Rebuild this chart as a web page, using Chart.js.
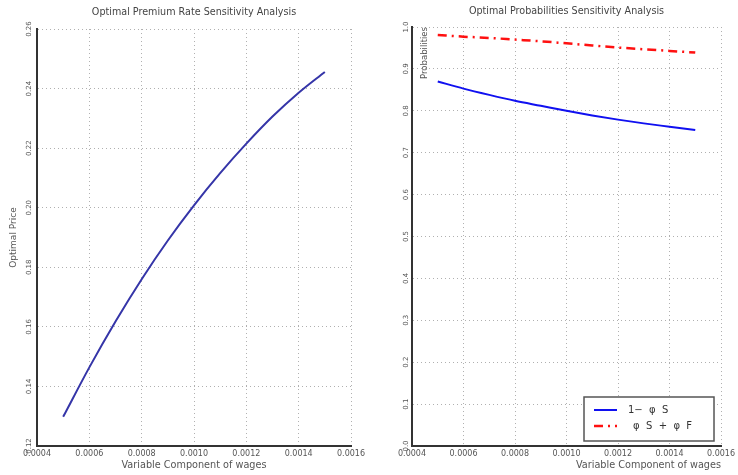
<!DOCTYPE html>
<html>
<head>
<meta charset="utf-8">
<script src="https://cdn.jsdelivr.net/npm/chart.js@4"></script>
<style>
  html, body { margin: 0; padding: 0; background: #fff; }
  body { width: 738px; height: 475px; position: relative; overflow: hidden; }
  canvas { position: absolute; top: 0; }
  #left { left: 0; }
  #right { left: 369px; }
</style>
</head>
<body>
<canvas id="left" width="369" height="475"></canvas>
<canvas id="right" width="369" height="475"></canvas>
<script>
// Daten
const wages = [0.0005, 0.0006, 0.0007, 0.0008, 0.0009, 0.0010, 0.0011, 0.0012, 0.0013, 0.0014, 0.0015];
const optimalPrice = [0.1298, 0.1464, 0.1618, 0.1760, 0.1890, 0.2008, 0.2116, 0.2215, 0.2306, 0.2386, 0.2456];
const oneMinusPhiS = [0.870, 0.853, 0.838, 0.824, 0.812, 0.800, 0.789, 0.779, 0.770, 0.762, 0.754];
const phiSplusPhiF = [0.981, 0.977, 0.974, 0.970, 0.966, 0.961, 0.956, 0.951, 0.947, 0.943, 0.939];
const seriesLabels = ['1\u2212  \u03c6  S', '\u03c6  S  +  \u03c6  F'];

// Achsenbeschriftungen
const xTickLabels = ['0.0004', '0.0006', '0.0008', '0.0010', '0.0012', '0.0014', '0.0016'];
const priceTickLabels = ['0.12', '0.14', '0.16', '0.18', '0.20', '0.22', '0.24', '0.26'];
const probTickLabels = ['0.0', '0.1', '0.2', '0.3', '0.4', '0.5', '0.6', '0.7', '0.8', '0.9', '1.0'];

Chart.defaults.font.family = 'DejaVu Sans';
Chart.defaults.color = '#555';

const toPoints = ys => wages.map((x, i) => ({x: x, y: ys[i]}));

// gemeinsame Achsen-Optionen
const gridOpts = {color: '#b0b0b0', lineWidth: 1, drawTicks: false};
const borderOpts = {display: true, color: '#333', width: 2, dash: [1, 3]};

function xScale(alignTitle) {
  return {
    type: 'linear',
    min: 0.0004, max: 0.0016,
    grid: gridOpts,
    border: borderOpts,
    ticks: {
      stepSize: 0.0002,
      padding: 3,
      maxRotation: 0,
      font: {size: 8},
      callback: (v, i) => xTickLabels[i]
    },
    title: {
      display: true,
      text: 'Variable Component of wages',
      align: alignTitle,
      font: {size: 9.7},
      padding: {top: 0, bottom: 4.2}
    },
    afterFit: s => { s.height = 29; }
  };
}

// Legende in der Ecke unten rechts
const legendBox = {
  id: 'legendBox',
  afterDraw(chart) {
    const {ctx, chartArea} = chart;
    const w = 130, h = 44;
    const x = chartArea.right - 7 - w;
    const y = chartArea.bottom - 5 - h;
    ctx.save();
    ctx.fillStyle = '#fff';
    ctx.fillRect(x, y, w, h);
    ctx.strokeStyle = '#555';
    ctx.lineWidth = 1.5;
    ctx.strokeRect(x, y, w, h);
    chart.data.datasets.forEach((ds, i) => {
      const ly = y + 13 + i * 16;
      ctx.strokeStyle = ds.borderColor;
      ctx.lineWidth = ds.borderWidth;
      ctx.setLineDash(ds.borderDash || []);
      ctx.beginPath();
      ctx.moveTo(x + 10, ly);
      ctx.lineTo(x + 33, ly);
      ctx.stroke();
      ctx.setLineDash([]);
      ctx.fillStyle = '#333';
      ctx.font = '10px DejaVu Sans';
      ctx.textBaseline = 'middle';
      ctx.fillText(ds.label, x + 44 + i * 5, ly);
    });
    ctx.restore();
  }
};

// linkes Diagramm
new Chart(document.getElementById('left'), {
  type: 'line',
  data: {
    datasets: [{
      label: 'Optimal Price',
      data: toPoints(optimalPrice),
      borderColor: '#3535a8',
      borderWidth: 2,
      pointRadius: 0,
      cubicInterpolationMode: 'monotone'
    }]
  },
  options: {
    responsive: false,
    animation: false,
    layout: {padding: {left: 0, right: 18, top: 0, bottom: 0}},
    plugins: {
      legend: {display: false},
      tooltip: {enabled: false},
      title: {
        display: true,
        fullSize: false,
        text: 'Optimal Premium Rate Sensitivity Analysis',
        color: '#444',
        font: {size: 9.6, weight: 'normal'},
        padding: {top: 6.5, bottom: 11}
      }
    },
    scales: {
      x: xScale('center'),
      y: {
        min: 0.12, max: 0.26,
        grid: gridOpts,
        border: borderOpts,
        ticks: {
          stepSize: 0.02,
          minRotation: 90,
          crossAlign: 'center',
          padding: 0,
          font: {size: 7},
          callback: (v, i) => priceTickLabels[i]
        },
        title: {
          display: true,
          text: 'Optimal Price',
          font: {size: 9},
          padding: {top: 8.6, bottom: 0}
        },
        afterFit: s => { s.width = 37; }
      }
    }
  }
});

// rechtes Diagramm
new Chart(document.getElementById('right'), {
  type: 'line',
  data: {
    datasets: [{
      label: seriesLabels[0],
      data: toPoints(oneMinusPhiS),
      borderColor: '#1010f0',
      borderWidth: 2,
      pointRadius: 0,
      cubicInterpolationMode: 'monotone'
    }, {
      label: seriesLabels[1],
      data: toPoints(phiSplusPhiF),
      borderColor: '#ff1010',
      borderWidth: 2.5,
      borderDash: [9, 5, 2, 5],
      pointRadius: 0,
      cubicInterpolationMode: 'monotone'
    }]
  },
  options: {
    responsive: false,
    animation: false,
    layout: {padding: {left: 0, right: 13, top: 0, bottom: 0}},
    plugins: {
      legend: {display: false},
      tooltip: {enabled: false},
      title: {
        display: true,
        fullSize: false,
        text: 'Optimal Probabilities Sensitivity Analysis',
        color: '#444',
        font: {size: 9.6, weight: 'normal'},
        padding: {top: 5.5, bottom: 10}
      }
    },
    scales: {
      x: xScale('end'),
      y: {
        min: 0, max: 1,
        grid: gridOpts,
        border: borderOpts,
        ticks: {
          stepSize: 0.1,
          minRotation: 90,
          crossAlign: 'center',
          padding: 0,
          font: {size: 7},
          callback: (v, i) => probTickLabels[i]
        },
        title: {
          display: true,
          text: 'Probabilities',
          align: 'end',
          font: {size: 8.5},
          padding: {top: 50.6, bottom: 0}
        },
        afterFit: s => { s.width = 43; }
      }
    }
  },
  plugins: [legendBox]
});
</script>
</body>
</html>
